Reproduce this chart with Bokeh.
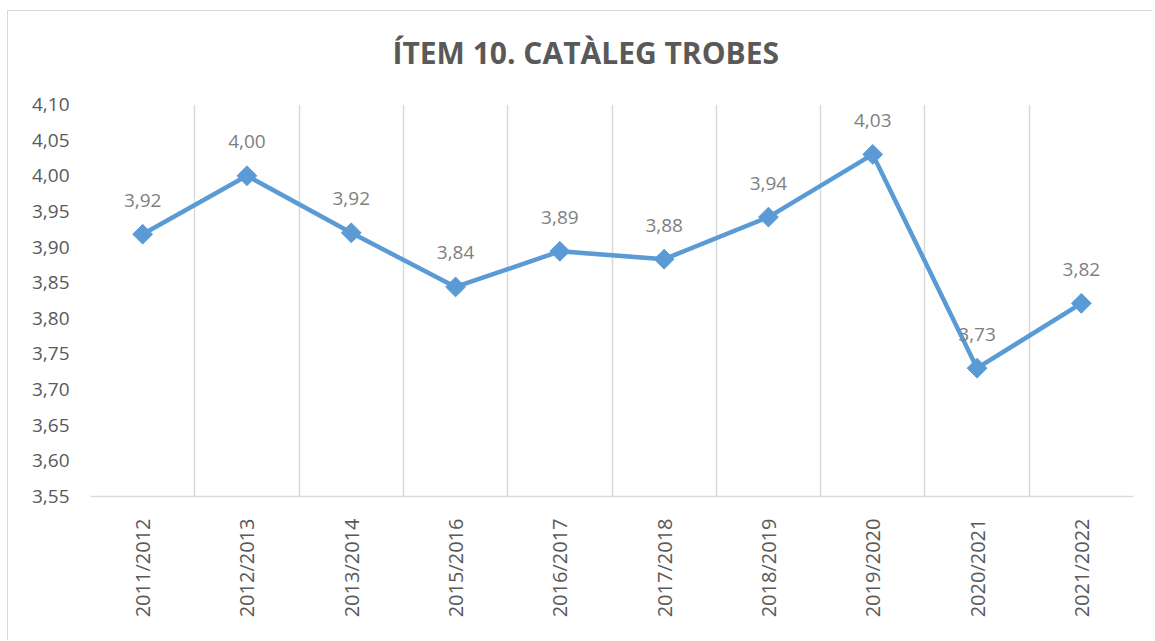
import math
from bokeh.plotting import figure
from bokeh.models import FixedTicker, CustomJSTickFormatter, ColumnDataSource, Range1d, Title
from bokeh.core.properties import value
from bokeh.embed import file_html
from bokeh.resources import INLINE

title_text = "ÍTEM 10. CATÀLEG TROBES"
categories = ["2011/2012", "2012/2013", "2013/2014", "2015/2016", "2016/2017",
              "2017/2018", "2018/2019", "2019/2020", "2020/2021", "2021/2022"]
values = [3.918, 4.000, 3.920, 3.844, 3.894, 3.883, 3.942, 4.030, 3.730, 3.821]
y_ticks = [3.55, 3.60, 3.65, 3.70, 3.75, 3.80, 3.85, 3.90, 3.95, 4.00, 4.05, 4.10]

FONT = "Open Sans"
BLUE = "#5b9bd5"

xs = [i + 0.5 for i in range(len(categories))]
labels = [f"{v:.2f}".replace(".", ",") for v in values]
src = ColumnDataSource(dict(x=xs, y=values, label=labels))

p = figure(width=1145, height=630, output_backend="svg", toolbar_location=None,
           x_range=Range1d(0, len(categories)), y_range=Range1d(y_ticks[0], y_ticks[-1]),
           min_border_left=82, min_border_right=20, min_border_top=93, min_border_bottom=145)
p.styles = {"border-left": "1.5px solid #d9d9d9", "border-top": "1.5px solid #d9d9d9",
            "margin-left": "7px", "margin-top": "10px"}
p.outline_line_color = None

# spacer panel between frame and title
p.add_layout(Title(text=" ", text_font_size="1px", standoff=29), "above")
p.add_layout(Title(text=title_text, align="left", offset=302, standoff=0,
                   vertical_align="bottom", text_font=FONT, text_font_size="30px",
                   text_font_style="bold", text_color="#595959"), "above")

p.xaxis.ticker = FixedTicker(ticks=xs)
p.xaxis.major_label_overrides = {x: c for x, c in zip(xs, categories)}
p.xaxis.major_label_orientation = math.pi / 2
p.xaxis.major_tick_line_color = None
p.xaxis.minor_tick_line_color = None
p.xaxis.axis_line_color = "#d9d9d9"
p.xaxis.axis_line_width = 1.5
p.xaxis.major_label_text_font = FONT
p.xaxis.major_label_text_font_size = "20px"
p.xaxis.major_label_text_color = "#595959"
p.xaxis.major_label_standoff = 16

p.yaxis.ticker = FixedTicker(ticks=y_ticks)
p.yaxis.formatter = CustomJSTickFormatter(code="return tick.toFixed(2).replace('.', ',');")
p.yaxis.axis_line_color = None
p.yaxis.major_tick_line_color = None
p.yaxis.minor_tick_line_color = None
p.yaxis.major_label_text_font = FONT
p.yaxis.major_label_text_font_size = "19px"
p.yaxis.major_label_text_color = "#595959"
p.yaxis.major_label_standoff = 15

p.ygrid.grid_line_color = None
p.xgrid.ticker = FixedTicker(ticks=list(range(len(categories) + 1)))
p.xgrid.grid_line_color = "#d9d9d9"
p.xgrid.grid_line_width = 1.5

p.line("x", "y", source=src, line_color=BLUE, line_width=4.5)
p.scatter("x", "y", source=src, marker="square", angle=math.pi / 4, size=14,
          fill_color=BLUE, line_color=BLUE)
p.text("x", "y", text="label", source=src, y_offset=-34, text_align="center",
       text_baseline="middle", text_font=value(FONT), text_font_size="19px",
       text_color="#7f7f7f")

open("out.html", "w").write(file_html(p, INLINE))
